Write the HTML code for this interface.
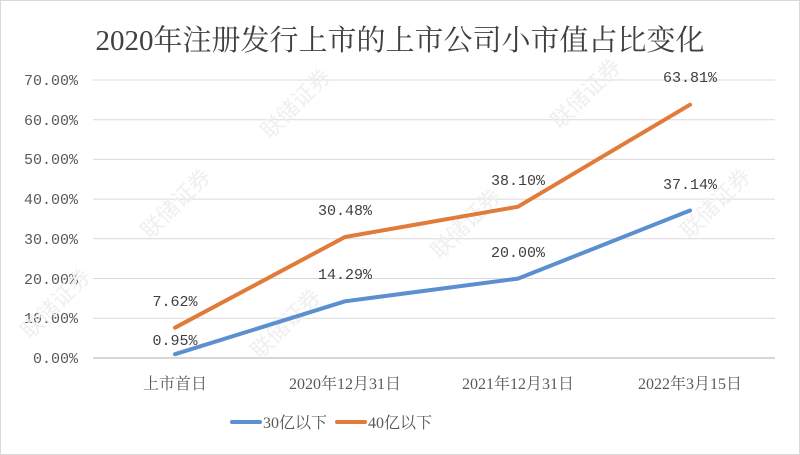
<!DOCTYPE html>
<html><head><meta charset="utf-8"><style>
html,body{margin:0;padding:0;background:#fff;}
svg{display:block;}
</style></head><body>
<svg width="800" height="455" xmlns="http://www.w3.org/2000/svg">
<rect x="0.5" y="0.5" width="799" height="454" fill="#fff" stroke="#d9d9d9"/>
<text x="400" y="50" text-anchor="middle" font-family="'Liberation Serif','Noto Serif CJK SC',serif" font-size="29" fill="#404040">2020年注册发行上市的上市公司小市值占比变化</text>
<g stroke="#d9d9d9" stroke-width="1">
<line x1="93" x2="775" y1="80" y2="80"/><line x1="93" x2="775" y1="119.7" y2="119.7"/>
<line x1="93" x2="775" y1="159.4" y2="159.4"/><line x1="93" x2="775" y1="199.1" y2="199.1"/>
<line x1="93" x2="775" y1="238.8" y2="238.8"/><line x1="93" x2="775" y1="278.5" y2="278.5"/>
<line x1="93" x2="775" y1="318.2" y2="318.2"/>
</g>
<line x1="93" x2="775" y1="358" y2="358" stroke="#bfbfbf" stroke-width="1.2"/>
<g font-family="'Liberation Mono','Noto Sans CJK SC',monospace" font-size="15" fill="#595959" text-anchor="end">
<text x="78" y="85">70.00%</text><text x="78" y="125">60.00%</text><text x="78" y="164">50.00%</text>
<text x="78" y="204">40.00%</text><text x="78" y="244">30.00%</text><text x="78" y="284">20.00%</text>
<text x="78" y="323">10.00%</text><text x="78" y="363">0.00%</text>
</g>
<g font-family="'Liberation Serif','Noto Serif CJK SC',serif" font-size="16" fill="#595959" text-anchor="middle">
<text x="175" y="389">上市首日</text><text x="345" y="389">2020年12月31日</text>
<text x="518" y="389">2021年12月31日</text><text x="690" y="389">2022年3月15日</text>
</g>
<g font-family="'Noto Sans CJK SC',sans-serif" font-size="22" fill="#efefef">
<text transform="translate(270,140) rotate(-45)">联储证券</text>
<text transform="translate(150,240) rotate(-45)">联储证券</text>
<text transform="translate(560,130) rotate(-45)">联储证券</text>
<text transform="translate(260,360) rotate(-45)">联储证券</text>
<text transform="translate(440,260) rotate(-45)">联储证券</text>
<text transform="translate(690,240) rotate(-45)">联储证券</text>
<text transform="translate(30,340) rotate(-45)">联储证券</text>
</g>
<polyline points="175,354.2 345,301.3 518,278.6 690,210.5" fill="none" stroke="#5b8fd0" stroke-width="4" stroke-linecap="round" stroke-linejoin="round"/>
<polyline points="175,327.7 345,237 518,206.7 690,104.7" fill="none" stroke="#e07b39" stroke-width="4" stroke-linecap="round" stroke-linejoin="round"/>
<g font-family="'Liberation Mono',monospace" font-size="15" fill="#404040" text-anchor="middle">
<text x="175" y="345">0.95%</text><text x="345" y="279">14.29%</text><text x="518" y="257">20.00%</text><text x="690" y="189">37.14%</text>
<text x="175" y="306">7.62%</text><text x="345" y="215">30.48%</text><text x="518" y="185">38.10%</text><text x="690" y="82">63.81%</text>
</g>
<line x1="232" x2="260" y1="422" y2="422" stroke="#5b8fd0" stroke-width="4" stroke-linecap="round"/>
<line x1="337" x2="365" y1="422" y2="422" stroke="#e07b39" stroke-width="4" stroke-linecap="round"/>
<g font-family="'Liberation Serif','Noto Serif CJK SC',serif" font-size="16" fill="#595959">
<text x="263" y="428">30亿以下</text><text x="368" y="428">40亿以下</text>
</g>
</svg>
</body></html>
